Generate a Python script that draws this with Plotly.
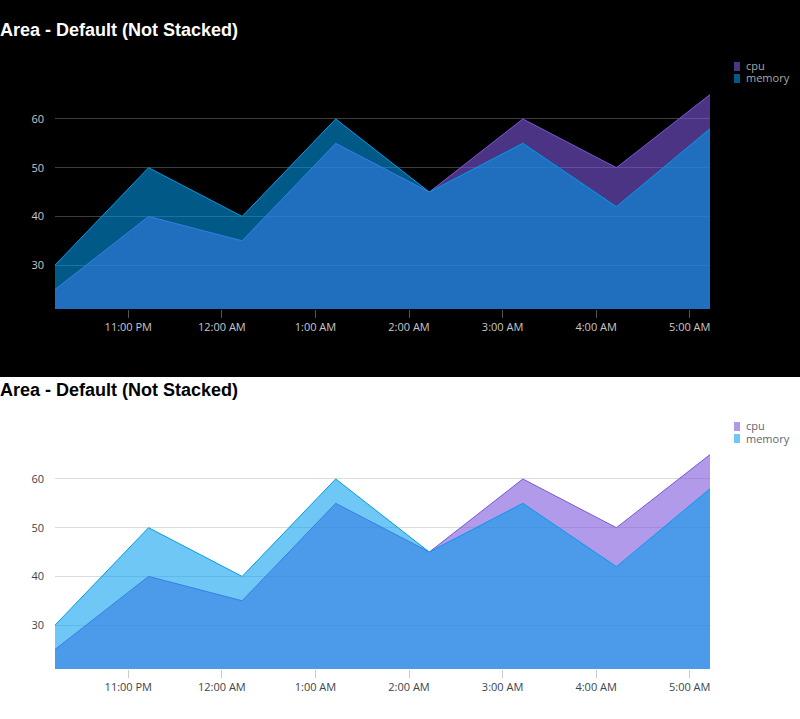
import plotly.graph_objects as go
from plotly.subplots import make_subplots

# hourly samples, 10:13 PM .. 5:13 AM
times = ['2024-01-01 22:13', '2024-01-01 23:13', '2024-01-02 00:13', '2024-01-02 01:13',
         '2024-01-02 02:13', '2024-01-02 03:13', '2024-01-02 04:13', '2024-01-02 05:13']
cpu = [25, 40, 35, 55, 45, 60, 50, 65]
memory = [30, 50, 40, 60, 45, 55, 42, 58]
series_names = ['cpu', 'memory']

title_text = 'Area - Default (Not Stacked)'

CPU_LINE = '#7b56db'
CPU_FILL = 'rgba(123,86,219,0.6)'
MEM_LINE = '#009ceb'
MEM_FILL = 'rgba(0,156,235,0.57)'

W, H = 800, 719


def py(px):
    # pixel from top -> paper fraction
    return 1 - px / H


fig = make_subplots(rows=2, cols=1, vertical_spacing=0.05)

panels = [
    dict(row=1, top=0, font='#c8c8c8', legend_font='#a8a8a8', grid='#3c3c3c', tick='#555555',
         title='white'),
    dict(row=2, top=360, font='#3c444d', legend_font='#5c6773', grid='#dcdcdc', tick='#cccccc',
         title='black'),
]

shapes = [dict(type='rect', xref='paper', yref='paper', x0=0, x1=1, y0=py(377), y1=1,
               fillcolor='black', line=dict(width=0), layer='below')]
annotations = []

for p in panels:
    fig.add_trace(go.Scatter(
        x=times, y=cpu, name='cpu', mode='lines',
        line=dict(color=CPU_LINE, width=1), fill='tozeroy', fillcolor=CPU_FILL,
        showlegend=False, hoverinfo='skip'
    ), row=p['row'], col=1)
    fig.add_trace(go.Scatter(
        x=times, y=memory, name='memory', mode='lines',
        line=dict(color=MEM_LINE, width=1), fill='tozeroy', fillcolor=MEM_FILL,
        showlegend=False, hoverinfo='skip'
    ), row=p['row'], col=1)

    fig.update_xaxes(
        row=p['row'], col=1,
        range=[times[0], times[-1]], type='date',
        tickformat='%-I:%M %p', dtick=3600000, tick0='2024-01-01 23:00',
        showgrid=False, zeroline=False, showline=False,
        ticks='outside', ticklen=8, tickcolor=p['tick'], tickwidth=1,
        tickfont=dict(family='Open Sans', size=11, color=p['font']),
    )
    fig.update_yaxes(
        row=p['row'], col=1,
        range=[21, 68], dtick=10, tick0=0,
        showgrid=True, gridcolor=p['grid'], zeroline=False, showline=False,
        ticks='', ticklabelstandoff=10,
        tickfont=dict(family='Open Sans', size=11, color=p['font']),
    )

    t = p['top']
    annotations.append(dict(
        text='<b>%s</b>' % title_text, xref='paper', yref='paper', x=-2 / W, y=py(t + 30),
        xanchor='left', yanchor='middle', showarrow=False,
        font=dict(family='Liberation Sans', size=18, color=p['title'])))

    # legend swatches + labels
    for i, (nm, col) in enumerate(zip(series_names, [CPU_FILL, MEM_FILL])):
        cy = t + 66 + 12 * i
        shapes.append(dict(type='rect', xref='paper', yref='paper',
                           x0=734 / W, x1=740 / W, y0=py(cy + 5), y1=py(cy - 4),
                           fillcolor=col, line=dict(width=0)))
        annotations.append(dict(
            text=nm, xref='paper', yref='paper', x=745 / W, y=py(cy),
            xanchor='left', yanchor='middle', showarrow=False, borderpad=0,
            font=dict(family='Open Sans', size=11, color=p['legend_font'])))

fig.update_layout(
    xaxis=dict(domain=[55 / W, 710 / W]),
    xaxis2=dict(domain=[55 / W, 710 / W]),
    yaxis=dict(domain=[py(309), py(80)]),
    yaxis2=dict(domain=[py(669), py(440)]),
)

fig.update_layout(
    width=W, height=H,
    margin=dict(l=0, r=0, t=0, b=0),
    paper_bgcolor='white',
    plot_bgcolor='rgba(0,0,0,0)',
    font=dict(family='Open Sans'),
    shapes=shapes,
    annotations=annotations,
    showlegend=False,
    hovermode=False,
)

fig.write_html('out.html', config={'displayModeBar': False},
               post_script="document.body.style.margin='0';")
